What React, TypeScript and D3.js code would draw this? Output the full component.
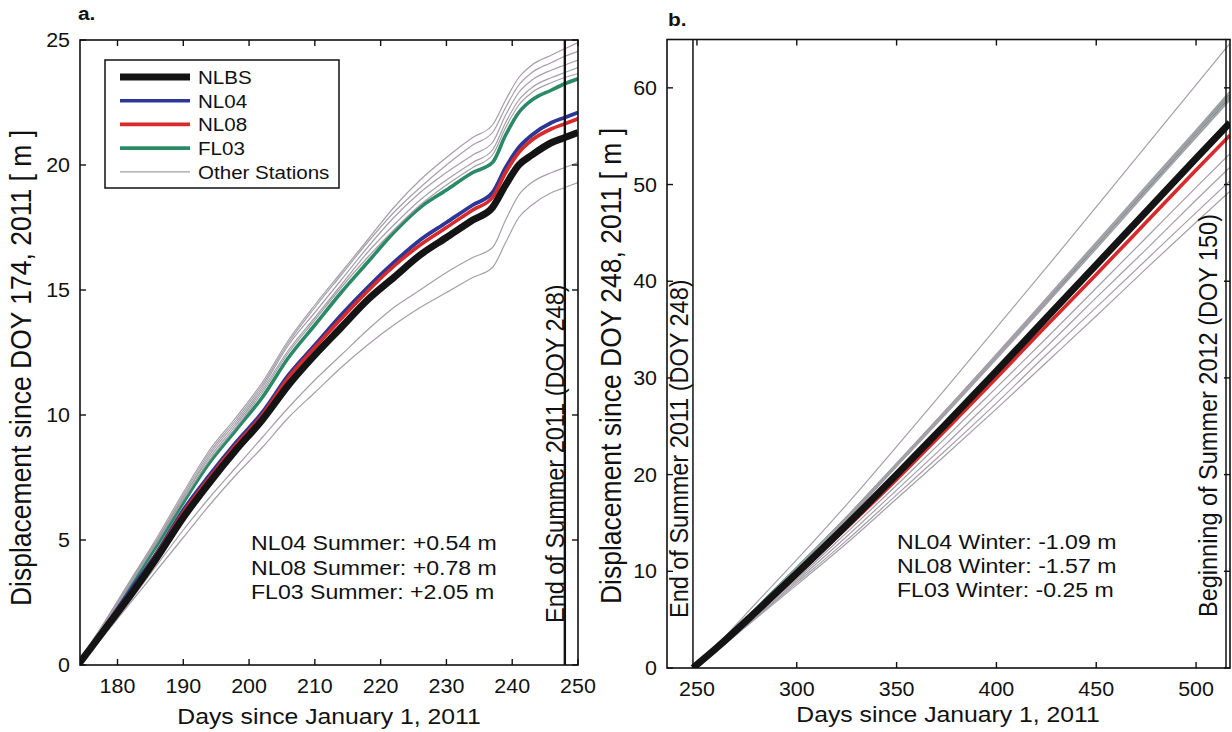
import React, { useEffect, useRef } from 'react';
import * as d3 from 'd3';

// panel a: summer 2011, displacement since DOY 174
const summerDays = [174, 178, 182, 186, 190, 194, 198, 202, 206, 210, 214, 218, 222, 226, 230, 234, 237, 239, 241, 243, 246, 248, 250];
const summerNLBS = [0, 1.4, 2.8, 4.3, 5.9, 7.3, 8.6, 9.8, 11.2, 12.4, 13.5, 14.6, 15.5, 16.4, 17.1, 17.8, 18.3, 19.2, 20.0, 20.4, 20.9, 21.1, 21.3];
const summerNL04 = [0, 1.5, 3.0, 4.5, 6.2, 7.6, 8.9, 10.1, 11.6, 12.8, 14.0, 15.1, 16.1, 17.0, 17.7, 18.4, 18.9, 19.9, 20.7, 21.2, 21.7, 21.9, 22.1];
const summerNL08 = [0, 1.5, 2.9, 4.45, 6.1, 7.5, 8.8, 10.0, 11.5, 12.7, 13.85, 14.95, 15.95, 16.8, 17.5, 18.2, 18.7, 19.7, 20.5, 21.0, 21.45, 21.65, 21.85];
const summerFL03 = [0, 1.6, 3.2, 4.8, 6.5, 8.1, 9.4, 10.7, 12.3, 13.6, 14.9, 16.1, 17.3, 18.3, 19.0, 19.7, 20.1, 21.2, 22.1, 22.6, 23.0, 23.25, 23.45];
const summerOthers = [
  [0, 1.7, 3.4, 5.1, 6.9, 8.6, 9.9, 11.3, 13.0, 14.4, 15.7, 17.0, 18.3, 19.4, 20.3, 21.1, 21.6, 22.6, 23.5, 24.0, 24.4, 24.65, 24.9],
  [0, 1.7, 3.4, 5.0, 6.8, 8.5, 9.8, 11.2, 12.9, 14.3, 15.6, 16.9, 18.1, 19.1, 20.0, 20.8, 21.3, 22.3, 23.2, 23.7, 24.1, 24.35, 24.55],
  [0, 1.65, 3.3, 5.0, 6.7, 8.4, 9.7, 11.1, 12.8, 14.1, 15.4, 16.7, 17.9, 18.9, 19.7, 20.4, 20.9, 22.0, 22.9, 23.4, 23.8, 24.0, 24.2],
  [0, 1.65, 3.3, 4.95, 6.7, 8.3, 9.6, 11.0, 12.6, 13.9, 15.2, 16.5, 17.6, 18.6, 19.4, 20.1, 20.6, 21.7, 22.6, 23.1, 23.5, 23.7, 23.9],
  [0, 1.6, 3.25, 4.9, 6.6, 8.2, 9.5, 10.9, 12.5, 13.8, 15.1, 16.3, 17.4, 18.4, 19.2, 19.9, 20.4, 21.5, 22.4, 22.9, 23.3, 23.5, 23.65],
  [0, 1.3, 2.6, 4.0, 5.4, 6.7, 7.9, 9.1, 10.3, 11.4, 12.4, 13.4, 14.3, 15.0, 15.7, 16.3, 16.7, 17.8, 18.8, 19.3, 19.7, 19.9, 20.1],
  [0, 1.2, 2.5, 3.8, 5.1, 6.4, 7.6, 8.7, 9.9, 10.9, 11.9, 12.8, 13.6, 14.3, 14.9, 15.5, 15.9, 16.9, 17.9, 18.4, 18.9, 19.1, 19.3],
];
const summerXTicks = [180, 190, 200, 210, 220, 230, 240, 250];
const summerYTicks = [0, 5, 10, 15, 20, 25];
const summerNotes = ['NL04 Summer: +0.54 m', 'NL08 Summer: +0.78 m', 'FL03 Summer: +2.05 m'];

// panel b: winter 2011-12, displacement since DOY 248
const winterDays = [248, 260, 280, 300, 325, 350, 375, 400, 425, 450, 475, 500, 517];
const winterNLBS = [0, 2.1, 5.9, 9.8, 14.8, 20.0, 25.3, 30.7, 36.2, 41.7, 47.2, 52.7, 56.4];
const winterNL04 = [0, 2.1, 5.9, 9.8, 14.8, 20.0, 25.2, 30.6, 36.1, 41.6, 47.1, 52.6, 56.3];
const winterNL08 = [0, 2.1, 5.8, 9.6, 14.5, 19.5, 24.7, 30.0, 35.4, 40.7, 46.1, 51.5, 55.1];
const winterFL03 = [0, 2.2, 6.2, 10.3, 15.5, 21.0, 26.6, 32.2, 38.0, 43.8, 49.6, 55.3, 59.2];
const winterOthers = [
  [0, 2.4, 6.8, 11.2, 16.9, 22.9, 29.0, 35.2, 41.4, 47.7, 54.0, 60.3, 64.6],
  [0, 2.2, 6.2, 10.3, 15.6, 21.1, 26.7, 32.4, 38.2, 44.0, 49.8, 55.6, 59.6],
  [0, 2.2, 6.2, 10.3, 15.5, 21.0, 26.6, 32.2, 38.0, 43.8, 49.6, 55.3, 59.2],
  [0, 2.2, 6.2, 10.2, 15.4, 20.9, 26.4, 32.0, 37.7, 43.4, 49.2, 54.9, 58.8],
  [0, 2.0, 5.6, 9.2, 14.0, 18.9, 23.9, 29.0, 34.1, 39.3, 44.5, 49.7, 53.2],
  [0, 1.9, 5.4, 9.0, 13.6, 18.4, 23.2, 28.2, 33.2, 38.3, 43.3, 48.4, 51.8],
  [0, 1.9, 5.3, 8.8, 13.2, 17.9, 22.6, 27.4, 32.4, 37.3, 42.2, 47.1, 50.4],
  [0, 1.8, 5.2, 8.6, 12.9, 17.5, 22.1, 26.8, 31.6, 36.4, 41.3, 46.1, 49.3],
];
const winterXTicks = [250, 300, 350, 400, 450, 500];
const winterYTicks = [0, 10, 20, 30, 40, 50, 60];
const winterNotes = ['NL04 Winter: -1.09 m', 'NL08 Winter: -1.57 m', 'FL03 Winter: -0.25 m'];

const legendNames = ['NLBS', 'NL04', 'NL08', 'FL03', 'Other Stations'];

const FONT = '"Liberation Sans", Arial, Helvetica, sans-serif';
const C_BLACK = '#141414';
const C_BLUE = '#2c3696';
const C_RED = '#d8292b';
const C_GREEN = '#2b8a66';
const C_GRAY = '#a59fa8';
const SX = 1.1; // the figure is a bit wider than tall

const App = () => {
  const ref = useRef<SVGSVGElement>(null);

  useEffect(() => {
    const svg = d3.select(ref.current);
    svg.selectAll('*').remove();

    const label = (g: any, x: number, y: number, str: string, size: number, anchor = 'start', rot = false, weight = 'normal') => {
      g.append('text')
        .attr('transform', rot ? `translate(${x},${y}) rotate(-90) scale(1,${SX})` : `translate(${x},${y}) scale(${SX},1)`)
        .attr('text-anchor', anchor)
        .attr('font-family', FONT)
        .attr('font-size', size)
        .attr('font-weight', weight)
        .attr('fill', '#111')
        .text(str);
    };

    const panel = (opt: any) => {
      const { x, y, days, series, xTicks, yTicks, id } = opt;
      const g = svg.append('g');
      const [x0, x1] = x.range();
      const [y0, y1] = y.range();

      g.append('clipPath').attr('id', id)
        .append('rect').attr('x', x0).attr('y', y1).attr('width', x1 - x0).attr('height', y0 - y1);

      const line = d3.line<number>()
        .x((d, i) => x(days[i]))
        .y(d => y(d))
        .curve(d3.curveMonotoneX);

      const lines = g.append('g').attr('clip-path', `url(#${id})`);
      series.forEach((s: any) => {
        lines.append('path')
          .attr('d', line(s.values))
          .attr('fill', 'none')
          .attr('stroke', s.color)
          .attr('stroke-width', s.width)
          .attr('stroke-linejoin', 'round');
      });

      // box and inward ticks on all sides
      g.append('rect').attr('x', x0).attr('y', y1).attr('width', x1 - x0).attr('height', y0 - y1)
        .attr('fill', 'none').attr('stroke', '#111').attr('stroke-width', 1.6);
      xTicks.forEach((t: number) => {
        g.append('line').attr('x1', x(t)).attr('x2', x(t)).attr('y1', y0).attr('y2', y0 - 6).attr('stroke', '#111').attr('stroke-width', 1.4);
        g.append('line').attr('x1', x(t)).attr('x2', x(t)).attr('y1', y1).attr('y2', y1 + 6).attr('stroke', '#111').attr('stroke-width', 1.4);
        label(g, x(t), y0 + 28, String(t), 19.5, 'middle');
      });
      yTicks.forEach((t: number) => {
        g.append('line').attr('x1', x0).attr('x2', x0 + 6).attr('y1', y(t)).attr('y2', y(t)).attr('stroke', '#111').attr('stroke-width', 1.4);
        g.append('line').attr('x1', x1).attr('x2', x1 - 6).attr('y1', y(t)).attr('y2', y(t)).attr('stroke', '#111').attr('stroke-width', 1.4);
        label(g, x0 - 10, y(t) + 7, String(t), 19.5, 'end');
      });
      return g;
    };

    // ---- panel a ----
    const xa = d3.scaleLinear().domain([174.3, 250]).range([80, 578]);
    const ya = d3.scaleLinear().domain([0, 25]).range([665, 40]);
    const ga = panel({
      id: 'clipA', x: xa, y: ya, days: summerDays, xTicks: summerXTicks, yTicks: summerYTicks,
      series: [
        { values: summerFL03, color: C_GREEN, width: 3.6 },
        ...summerOthers.map(v => ({ values: v, color: C_GRAY, width: 1.2 })),
        { values: summerNL04, color: C_BLUE, width: 3.8 },
        { values: summerNL08, color: C_RED, width: 3.6 },
        { values: summerNLBS, color: C_BLACK, width: 7 },
      ],
    });
    ga.append('line').attr('x1', xa(248)).attr('x2', xa(248)).attr('y1', ya(0)).attr('y2', ya(25))
      .attr('stroke', '#111').attr('stroke-width', 2.4);
    label(ga, 564, 623, 'End of Summer 2011 (DOY 248)', 23.5, 'start', true);
    summerNotes.forEach((t, i) => label(ga, 251, 550 + i * 24.5, t, 21));
    label(ga, 78, 20, 'a.', 19, 'start', false, 'bold');
    label(ga, 329, 724, 'Days since January 1, 2011', 22.5, 'middle');
    label(ga, 31, 368, 'Displacement since DOY 174, 2011 [ m ]', 26.5, 'middle', true);

    // legend
    const lg = ga.append('g');
    lg.append('rect').attr('x', 105).attr('y', 60).attr('width', 234).attr('height', 128)
      .attr('fill', '#fff').attr('stroke', '#111').attr('stroke-width', 1.5);
    const legendStyle = [
      { color: C_BLACK, width: 7 },
      { color: C_BLUE, width: 3.6 },
      { color: C_RED, width: 3.6 },
      { color: C_GREEN, width: 3.6 },
      { color: C_GRAY, width: 1.2 },
    ];
    legendNames.forEach((name, i) => {
      const cy = 77 + i * 23.7;
      lg.append('line').attr('x1', 120).attr('x2', 190).attr('y1', cy).attr('y2', cy)
        .attr('stroke', legendStyle[i].color).attr('stroke-width', legendStyle[i].width);
      label(lg, 198, cy + 6.8, name, 18.7);
    });

    // ---- panel b ----
    const xb = d3.scaleLinear().domain([235, 517]).range([667, 1230]);
    const yb = d3.scaleLinear().domain([0, 65]).range([668, 39.5]);
    const gb = panel({
      id: 'clipB', x: xb, y: yb, days: winterDays, xTicks: winterXTicks, yTicks: winterYTicks,
      series: [
        { values: winterFL03, color: C_GREEN, width: 3.2 },
        ...winterOthers.map((v, i) => ({ values: v, color: C_GRAY, width: i > 0 && i < 4 ? 2 : 1.2 })),
        { values: winterNL04, color: C_BLUE, width: 3.8 },
        { values: winterNL08, color: C_RED, width: 3.6 },
        { values: winterNLBS, color: C_BLACK, width: 7 },
      ],
    });
    [248, 515].forEach(d => {
      gb.append('line').attr('x1', xb(d)).attr('x2', xb(d)).attr('y1', yb(0)).attr('y2', yb(65))
        .attr('stroke', '#111').attr('stroke-width', 1.5);
    });
    label(gb, 688, 618, 'End of Summer 2011 (DOY 248)', 23.5, 'start', true);
    label(gb, 1217, 617, 'Beginning of Summer 2012 (DOY 150)', 23.5, 'start', true);
    winterNotes.forEach((t, i) => label(gb, 897, 549 + i * 24, t, 21));
    label(gb, 668, 26, 'b.', 19, 'start', false, 'bold');
    label(gb, 948, 722, 'Days since January 1, 2011', 22.5, 'middle');
    label(gb, 621, 366, 'Displacement since DOY 248, 2011 [ m ]', 26.5, 'middle', true);
  }, []);

  return (
    <svg ref={ref} width={1232} height={732}
      style={{ position: 'absolute', left: 0, top: 0, display: 'block', background: '#fff' }} />
  );
};

export default App;
